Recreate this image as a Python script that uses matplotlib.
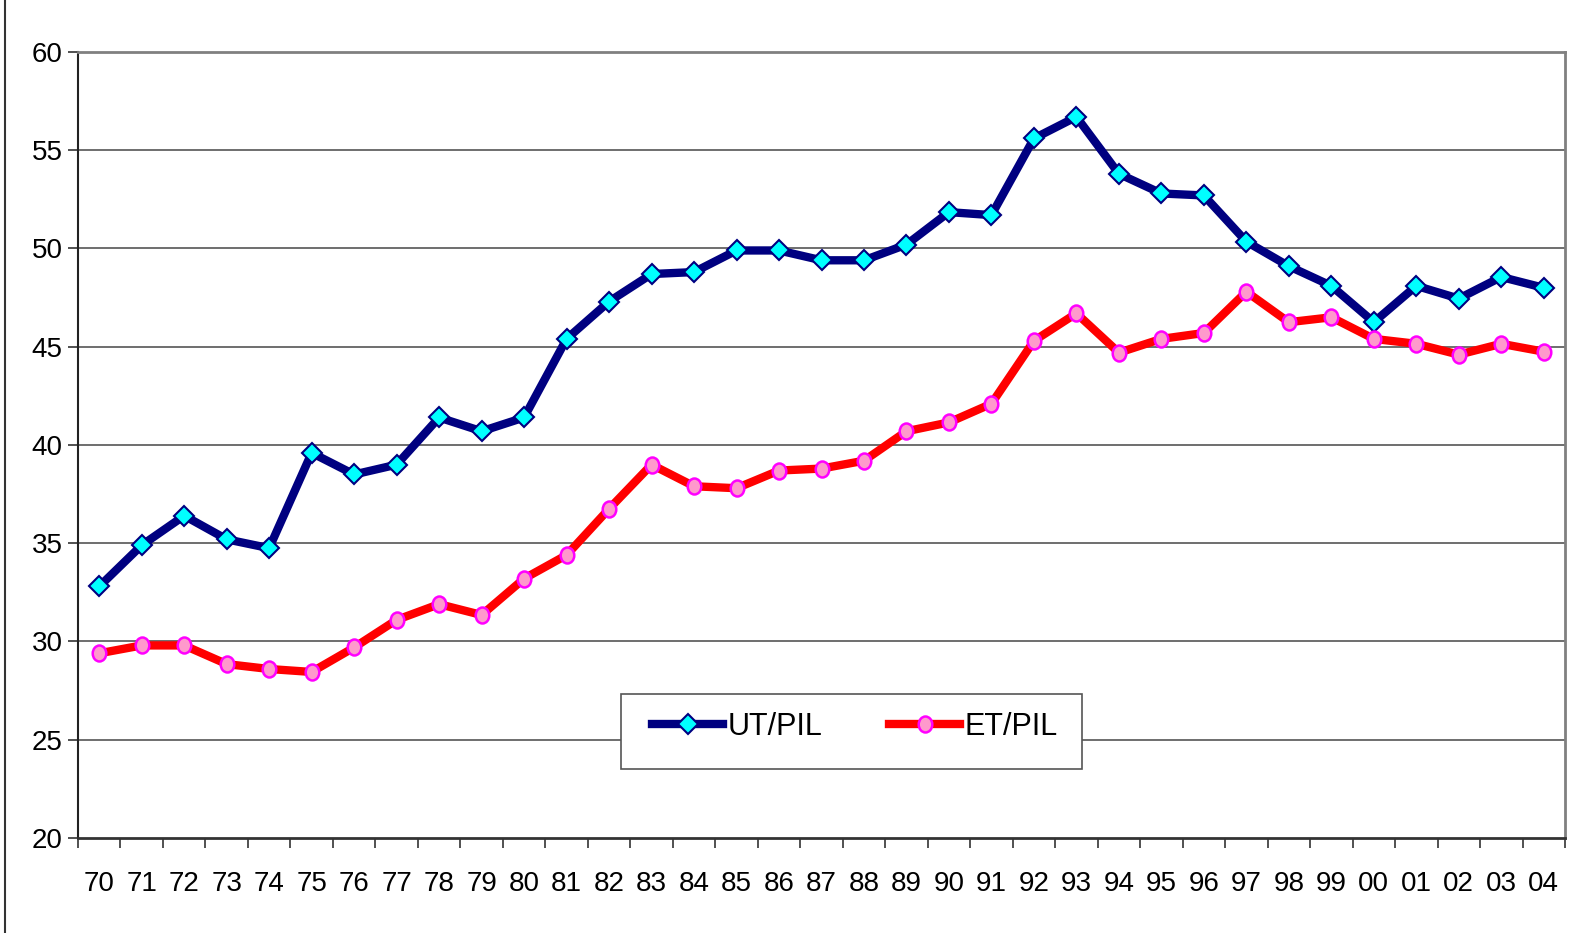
import matplotlib
matplotlib.use("Agg")
import matplotlib.pyplot as plt
import numpy as np
from matplotlib.lines import Line2D
from matplotlib.patches import Rectangle
from matplotlib.path import Path

plt.rcParams['font.family'] = ['Liberation Sans', 'DejaVu Sans']

years = ["70","71","72","73","74","75","76","77","78","79","80","81","82","83","84","85","86",
         "87","88","89","90","91","92","93","94","95","96","97","98","99","00","01","02","03","04"]
ut_pil = [32.8, 34.9, 36.4, 35.2, 34.75, 39.6, 38.5, 39.0, 41.4, 40.7, 41.4, 45.4, 47.3, 48.7,
          48.8, 49.9, 49.9, 49.4, 49.4, 50.2, 51.85, 51.7, 55.6, 56.7, 53.8, 52.8, 52.7, 50.35,
          49.1, 48.1, 46.25, 48.1, 47.45, 48.55, 48.0]
et_pil = [29.4, 29.8, 29.8, 28.85, 28.6, 28.45, 29.7, 31.1, 31.9, 31.35, 33.2, 34.4, 36.75, 39.0,
          37.9, 37.8, 38.7, 38.8, 39.2, 40.7, 41.15, 42.1, 45.3, 46.7, 44.7, 45.4, 45.7, 47.8,
          46.25, 46.5, 45.4, 45.15, 44.6, 45.15, 44.75]
series_labels = ["UT/PIL", "ET/PIL"]
yticks = [20, 25, 30, 35, 40, 45, 50, 55, 60]

W, H = 1572, 933
fig = plt.figure(figsize=(W/100, H/100), dpi=100)
ax = fig.add_axes([78/W, 1-838/H, (1565-78)/W, (838-52)/H])

circ = Path.unit_circle()
ellipse = Path(circ.vertices * np.array([0.85, 1.0]), circ.codes)

x = np.arange(len(years))
for yv in yticks[1:-1]:
    ax.axhline(yv, color='#555555', lw=1.2, zorder=1)

ax.plot(x, ut_pil, color='#000080', lw=6, marker='D', markersize=10.5,
        markerfacecolor='#00FFFF', markeredgecolor='#000080', markeredgewidth=1.5,
        zorder=3, label=series_labels[0])
ax.plot(x, et_pil, color='#FF0000', lw=6, marker=ellipse, markersize=11.5,
        markerfacecolor='#FF99CC', markeredgecolor='#FF00FF', markeredgewidth=1.8,
        zorder=3, label=series_labels[1])

ax.set_xlim(-0.5, len(years)-0.5)
ax.set_ylim(20, 60)
ax.set_yticks(yticks)
ax.set_yticklabels([str(v) for v in yticks])
ax.set_xticks(x)
ax.set_xticklabels(years)
ax.set_xticks(np.arange(-0.5, len(years), 1.0), minor=True)
ax.tick_params(axis='x', which='major', length=0, pad=24, labelsize=20)
ax.tick_params(axis='x', which='minor', length=7, width=1.2, color='#333333', direction='out')
ax.tick_params(axis='y', which='major', length=7, width=1.2, color='#333333', pad=4, labelsize=20)

for s in ['top', 'right']:
    ax.spines[s].set_color('#808080')
    ax.spines[s].set_linewidth(2)
ax.spines['left'].set_color('#222222')
ax.spines['left'].set_linewidth(1.5)
ax.spines['bottom'].set_color('#333333')
ax.spines['bottom'].set_linewidth(2)

# legend frame
box = Rectangle((621/W, 1-769/H), (1082-621)/W, (769-694)/H, transform=fig.transFigure,
                facecolor='white', edgecolor='#555555', lw=1.2, zorder=4, clip_on=False)
ax.add_patch(box)
leg = ax.legend(loc='center', bbox_to_anchor=(855/W, 1-727/H),
                bbox_transform=fig.transFigure, ncol=2, fontsize=22, frameon=False,
                handlelength=2.3, handletextpad=0.15, borderaxespad=0, borderpad=0,
                columnspacing=2.2)
leg.set_zorder(5)

fig.add_artist(Line2D([5/W, 5/W], [0, 1], color='#333333', lw=1.5, transform=fig.transFigure))

fig.savefig("out.png", dpi=100, facecolor='white')
